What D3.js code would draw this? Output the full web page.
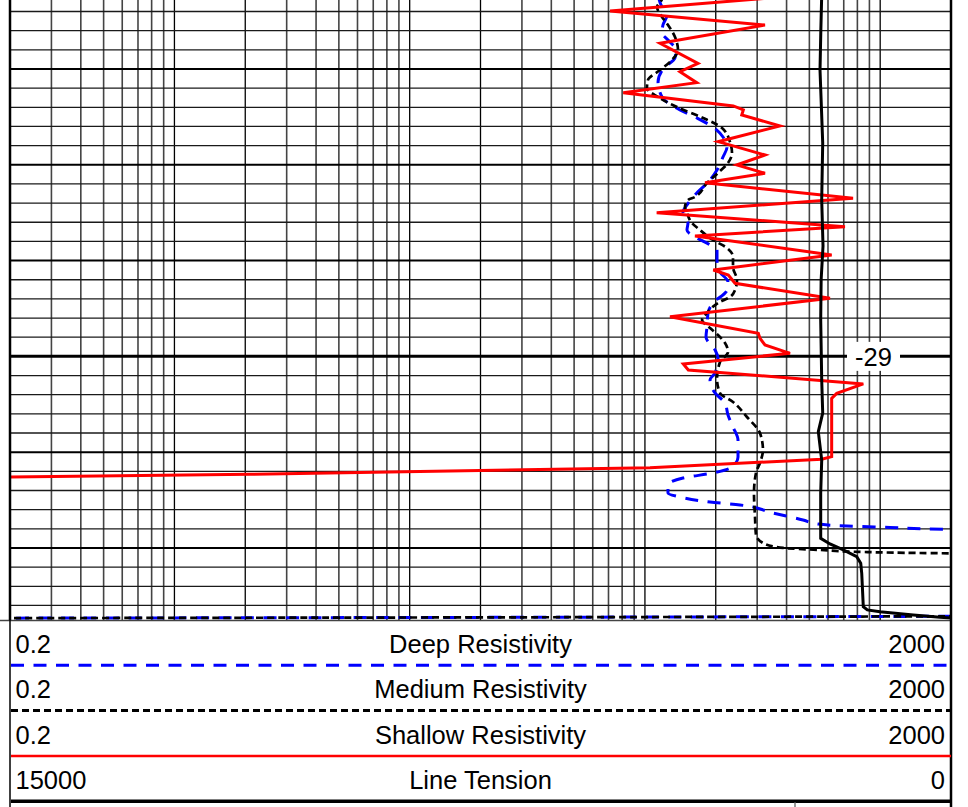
<!DOCTYPE html>
<html>
<head>
<meta charset="utf-8">
<script src="https://cdn.jsdelivr.net/npm/d3@7"></script>
<style>
  body { margin: 0; background: #fff; }
  svg { display: block; font-family: "Liberation Sans", Arial, sans-serif; }
</style>
</head>
<body>
<div id="chart"></div>
<script>
// depth window shown in the track (elevation, top to bottom)
const depthWindow = [-25.28, -31.752];
const depthLabels = [-29];

const resDomain = [0.2, 2000];
const tensionDomain = [15000, 0];

const trackNames = ["Deep Resistivity", "Medium Resistivity", "Shallow Resistivity", "Line Tension"];
const trackLeft = ["0.2", "0.2", "0.2", "15000"];
const trackRight = ["2000", "2000", "2000", "0"];

// [depth, ohm.m]
const deepResistivity = [
  [-25.228, 113.7], [-25.332, 117.0], [-25.437, 124.1], [-25.541, 119.3], [-25.624, 118.2],
  [-25.698, 125.3], [-25.802, 135.5], [-25.885, 134.2], [-25.990, 120.5], [-26.136, 113.7],
  [-26.293, 118.2], [-26.428, 140.9], [-26.512, 166.5], [-26.606, 194.7], [-26.710, 214.7],
  [-26.814, 223.3], [-26.919, 214.7], [-27.055, 202.5], [-27.159, 189.1], [-27.315, 163.2],
  [-27.420, 150.9], [-27.493, 145.1], [-27.608, 152.4], [-27.681, 150.9], [-27.764, 166.5],
  [-27.837, 189.1], [-27.890, 202.5], [-27.994, 202.5], [-28.119, 208.5], [-28.224, 225.5],
  [-28.307, 223.3], [-28.443, 194.7], [-28.547, 185.4], [-28.693, 183.6], [-28.798, 181.8],
  [-28.933, 198.5], [-29.017, 204.4], [-29.174, 198.5], [-29.247, 189.1], [-29.382, 198.5],
  [-29.487, 219.0], [-29.612, 225.5], [-29.737, 236.8], [-29.873, 248.7], [-30.050, 248.7],
  [-30.155, 234.5], [-30.217, 194.7], [-30.270, 145.1], [-30.343, 125.3], [-30.426, 125.3],
  [-30.468, 140.9], [-30.520, 189.1], [-30.551, 253.5], [-30.635, 350.3], [-30.708, 469.8],
  [-30.750, 544.0], [-30.771, 722.8], [-30.786, 1101], [-30.805, 1849], [-30.823, 5000],
  [-31.705, 5000], [-31.747, 0.00001]
];

const mediumResistivity = [
  [-25.228, 119.3], [-25.280, 117.8], [-25.353, 112.6], [-25.457, 118.2], [-25.541, 125.3],
  [-25.666, 134.2], [-25.802, 138.2], [-25.906, 130.3], [-26.011, 115.9], [-26.115, 103.0],
  [-26.199, 102.0], [-26.293, 113.7], [-26.397, 136.9], [-26.512, 177.0], [-26.616, 212.7],
  [-26.762, 230.0], [-26.877, 234.5], [-26.981, 225.5], [-27.086, 204.4], [-27.190, 183.6],
  [-27.336, 163.2], [-27.368, 152.4], [-27.441, 148.0], [-27.503, 150.9], [-27.608, 158.5],
  [-27.681, 171.4], [-27.785, 194.7], [-27.869, 223.3], [-27.963, 236.8], [-28.067, 236.8],
  [-28.203, 246.3], [-28.307, 241.5], [-28.380, 230.0], [-28.443, 204.4], [-28.547, 183.6],
  [-28.620, 174.9], [-28.704, 189.1], [-28.777, 204.4], [-28.860, 219.0], [-28.954, 225.5],
  [-29.059, 208.5], [-29.236, 202.5], [-29.382, 208.5], [-29.476, 236.8], [-29.633, 271.5],
  [-29.800, 308.3], [-29.977, 317.5], [-30.113, 308.3], [-30.217, 296.5], [-30.426, 290.8],
  [-30.677, 293.7], [-30.865, 296.5], [-30.948, 317.5], [-31.000, 387.3], [-31.021, 554.8],
  [-31.042, 845.3], [-31.056, 1980], [-31.063, 5000], [-31.705, 5000], [-31.747, 0.00001]
];

const shallowResistivity = [
  [-25.259, 340], [-25.395, 71.1], [-25.541, 323.8], [-25.732, 115.9], [-25.941, 168.1],
  [-26.028, 140.9], [-26.143, 166.0], [-26.248, 80.9], [-26.386, 237.5], [-26.428, 262],
  [-26.480, 258], [-26.595, 375], [-26.759, 205], [-26.898, 323.8], [-27.002, 245.5],
  [-27.089, 323.8], [-27.187, 180], [-27.350, 766.6], [-27.500, 112.2], [-27.646, 708.6],
  [-27.743, 163.2], [-27.942, 622], [-28.098, 195.3], [-28.151, 226.2], [-28.237, 241.5],
  [-28.394, 611.8], [-28.586, 127.8], [-28.759, 303.3], [-28.811, 308.3], [-28.881, 323.8],
  [-28.968, 413.8], [-29.080, 145.6], [-29.142, 152.9], [-29.288, 847.6], [-29.386, 653.6],
  [-29.438, 622], [-30.047, 622], [-30.074, 564], [-30.162, 105.1], [-30.231, 2.10],
  [-30.259, 0.2], [-30.272, 0.068], [-31.800, 0.05]
];

// [depth, lbs]
const lineTension = [
  [-25.228, 2061], [-25.600, 2075], [-26.011, 2088], [-26.400, 2066], [-26.773, 2045],
  [-27.368, 2061], [-27.848, 2040], [-28.200, 2070], [-28.620, 2077], [-29.247, 2061],
  [-29.591, 2045], [-29.786, 2115], [-30.082, 2061], [-30.426, 2077], [-30.899, 2077],
  [-30.958, 1929], [-31.021, 1717], [-31.091, 1503], [-31.160, 1439], [-31.264, 1423],
  [-31.613, 1398], [-31.647, 1334], [-31.665, 1132], [-31.700, 601], [-31.724, 175],
  [-31.741, -200]
];

const curves = [
  {data: deepResistivity, scale: "res", color: "#0000ff", dash: "13,9.5", width: 3, smooth: true},
  {data: mediumResistivity, scale: "res", color: "#000000", dash: "7,4", width: 2.7, smooth: true},
  {data: shallowResistivity, scale: "res", color: "#ff0000", dash: null, width: 3, smooth: false},
  {data: lineTension, scale: "ten", color: "#000000", dash: null, width: 3, smooth: false}
];

let width = 968, height = 807;
let plot = {left: 10, right: 951, top: 0, bottom: 620};

let svg = d3.select("#chart").append("svg")
    .attr("width", width)
    .attr("height", height);

let xRes = d3.scaleLog().domain(resDomain).range([plot.left, plot.right]);
let xTen = d3.scaleLinear().domain(tensionDomain).range([plot.left, plot.right]);
let yScale = d3.scaleLinear().domain(depthWindow).range([plot.top, plot.bottom]);

// vertical log grid
let grid = svg.append("g");
xRes.ticks().forEach((v) => {
    let lead = Math.round(v / Math.pow(10, Math.floor(Math.log10(v) + 1e-9)));
    let major = lead === 1 || lead === 2;
    grid.append("line")
        .attr("x1", xRes(v)).attr("x2", xRes(v))
        .attr("y1", plot.top).attr("y2", plot.bottom)
        .attr("stroke", major ? "#000" : "#444")
        .attr("stroke-width", major ? 1.3 : 1.6);
});

// horizontal depth grid, every 0.2
let first = Math.floor(depthWindow[0] * 5) / 5;
for (let d = first; d >= depthWindow[1]; d = Math.round((d - 0.2) * 5) / 5) {
    let yy = yScale(d);
    if (yy < plot.top || yy > plot.bottom) continue;
    let major = Math.abs(d - Math.round(d)) < 1e-6;
    let labelled = depthLabels.includes(Math.round(d)) && major;
    grid.append("line")
        .attr("x1", plot.left).attr("x2", plot.right)
        .attr("y1", yy).attr("y2", yy)
        .attr("stroke", major ? "#000" : "#1a1a1a")
        .attr("stroke-width", labelled ? 3 : (major ? 2 : 1.3));
}

// depth labels with white boxes
depthLabels.forEach((d) => {
    let yy = yScale(d);
    svg.append("rect")
        .attr("x", 847).attr("y", yy - 14.5)
        .attr("width", 53).attr("height", 29)
        .attr("fill", "#fff");
    svg.append("text")
        .attr("x", 873.5).attr("y", yy + 9.5)
        .attr("text-anchor", "middle")
        .attr("font-size", 25.5)
        .text(d);
});

// curves
svg.append("clipPath").attr("id", "trackClip")
    .append("rect")
    .attr("x", plot.left).attr("y", plot.top)
    .attr("width", plot.right - plot.left)
    .attr("height", plot.bottom - plot.top);

let curveGroup = svg.append("g").attr("clip-path", "url(#trackClip)");
curves.forEach((c) => {
    let xs = c.scale === "res" ? xRes : xTen;
    let line = d3.line()
        .x((d) => xs(d[1]))
        .y((d) => yScale(d[0]))
        .curve(c.smooth ? d3.curveMonotoneY : d3.curveLinear);
    curveGroup.append("path")
        .datum(c.data)
        .attr("d", line)
        .attr("fill", "none")
        .attr("stroke", c.color)
        .attr("stroke-width", c.width)
        .attr("stroke-dasharray", c.dash);
});

// borders
svg.append("line")
    .attr("x1", 0).attr("x2", plot.right)
    .attr("y1", plot.bottom + 0.5).attr("y2", plot.bottom + 0.5)
    .attr("stroke", "#444").attr("stroke-width", 1.3);
svg.append("line")
    .attr("x1", plot.left).attr("x2", plot.left)
    .attr("y1", 0).attr("y2", plot.bottom)
    .attr("stroke", "#000").attr("stroke-width", 2.5);
svg.append("line")
    .attr("x1", plot.left).attr("x2", plot.left)
    .attr("y1", plot.bottom).attr("y2", height)
    .attr("stroke", "#000").attr("stroke-width", 1.5);
svg.append("line")
    .attr("x1", plot.right).attr("x2", plot.right)
    .attr("y1", 0).attr("y2", height)
    .attr("stroke", "#000").attr("stroke-width", 2.5);

// legend / scale header rows
let rowStep = 45.3;
trackNames.forEach((name, i) => {
    let base = 653 + i * rowStep;
    let ly = 665.3 + i * rowStep;
    let c = curves[i];
    svg.append("text")
        .attr("x", 15.5).attr("y", base)
        .attr("font-size", 25.5)
        .text(trackLeft[i]);
    svg.append("text")
        .attr("x", (plot.left + plot.right) / 2).attr("y", base)
        .attr("text-anchor", "middle")
        .attr("font-size", 25.5)
        .text(name);
    svg.append("text")
        .attr("x", 945).attr("y", base)
        .attr("text-anchor", "end")
        .attr("font-size", 25.5)
        .text(trackRight[i]);
    svg.append("line")
        .attr("x1", plot.left + 1).attr("x2", plot.right)
        .attr("y1", ly).attr("y2", ly)
        .attr("stroke", c.color)
        .attr("stroke-width", i === 3 ? 3.5 : (i === 2 ? 2.5 : 3))
        .attr("stroke-dasharray", c.dash);
});

svg.append("line")
    .attr("x1", 795).attr("x2", 795)
    .attr("y1", 802).attr("y2", height)
    .attr("stroke", "#555").attr("stroke-width", 1.2);
</script>
</body>
</html>
